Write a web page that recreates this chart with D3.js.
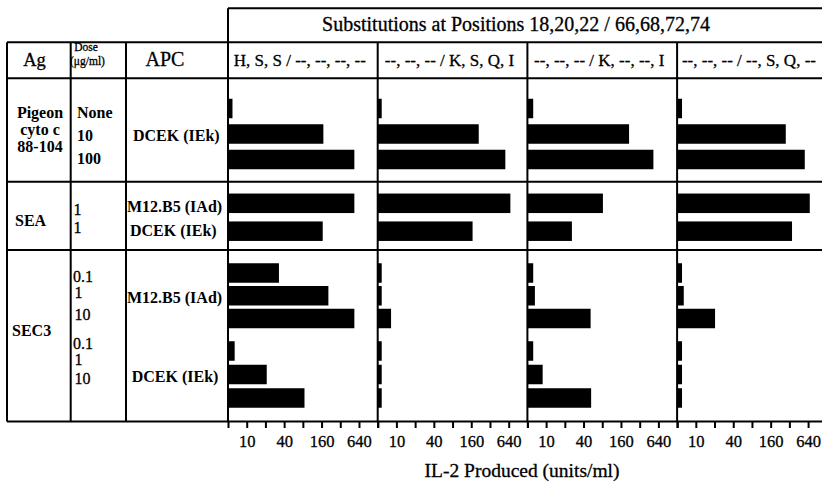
<!DOCTYPE html>
<html><head><meta charset="utf-8">
<script src="https://cdn.jsdelivr.net/npm/d3@7"></script>
<style>body{margin:0;background:#fff}svg{display:block;background:#fff}</style>
</head><body>
<svg id="c" width="822" height="483"></svg>
<script>
// ================= DATA =================
const headerTitle = "Substitutions at Positions 18,20,22 / 66,68,72,74";
const axisTitle = "IL-2 Produced (units/ml)";
const columnHeaders = ["Ag", "APC"];
const doseHeader = ["Dose", "(\u03bcg/ml)"];
const panels = [
  "H, S, S / --, --, --, --",
  "--, --, -- / K, S, Q, I",
  "--, --, -- / K, --, --, I",
  "--, --, -- / --, S, Q, --"
];
const agLabels = [["Pigeon", "cyto c", "88-104"], ["SEA"], ["SEC3"]];
const apcLabels = ["DCEK (IEk)", "M12.B5 (IAd)", "DCEK (IEk)", "M12.B5 (IAd)", "DCEK (IEk)"];
// row -> APC subgroup index
const rowSub = [0, 0, 0, 1, 2, 3, 3, 3, 4, 4, 4];
const doses = ["None", "10", "100", "1", "1", "0.1", "1", "10", "0.1", "1", "10"];
// IL-2 produced (units/ml), one array per substitution panel, rows in order above
const il2Panel1 = [5.9, 171, 539, 539, 167, 33, 206, 539, 6.4, 21, 85];
const il2Panel2 = [5.8, 211, 565, 681, 168, 5.8, 5.8, 8.2, 5.8, 5.8, 5.8];
const il2Panel3 = [6.2, 216, 532, 82, 26, 6.2, 6.6, 52, 6.2, 8.8, 53];
const il2Panel4 = [6.0, 280, 566, 681, 353, 6.0, 6.4, 20.4, 6.0, 6.0, 6.0];
const panelValues = [il2Panel1, il2Panel2, il2Panel3, il2Panel4];
const tickValues = [5, 10, 20, 40, 80, 160, 320, 640, 1280];
const tickLabels = [10, 40, 160, 640];

// ================= LAYOUT =================
const L = {
  left: 7, colAg: 70.7, colDose: 126, colApc: 228, panelW: 149.7,
  headTop: 8.3, headLine: 42.3, colHeadLine: 78.3,
  groupLines: [181.7, 250], axisY: 421.5, rightEnd: 840,
  barH: 19.5
};
// bar-centre ranges for each APC subgroup
const subRange = [[108.5, 159.5], [203.3, 203.3], [231.2, 231.2], [273, 318.5], [351, 398]];
const doseY = [118, 141, 164, 215, 233, 282, 298, 320, 349, 365, 384];
const doseX = [77, 77, 77, 73.5, 73.5, 73, 74.5, 74.5, 73, 74.5, 74.5];
const apcY = [140.7, 211.7, 236, 303.3, 381.7];
const apcX = [133, 127, 130, 127, 131.7];

const svg = d3.select("#c");
const FONT = "'Liberation Serif','Times New Roman',Times,serif";

// y positions from per-subgroup point scales
const subScales = subRange.map((r, si) => {
  const rows = rowSub.map((s, i) => s === si ? i : null).filter(v => v !== null);
  return d3.scalePoint().domain(rows).range(r);
});
const yCenter = i => subScales[rowSub[i]](i);

// x scales per panel (log2)
const xScales = panels.map((p, k) => {
  const x0 = L.colApc + k * L.panelW;
  return d3.scaleLog().base(2).domain([5, 1280]).range([x0, x0 + L.panelW]);
});

// ---------- bars ----------
panelValues.forEach((vals, k) => {
  const x = xScales[k];
  svg.append("g").selectAll("rect").data(vals).join("rect")
    .attr("x", x(5))
    .attr("y", (d, i) => yCenter(i) - L.barH / 2)
    .attr("width", d => x(d) - x(5))
    .attr("height", L.barH)
    .attr("fill", "#000");
});

// ---------- grid lines ----------
const lines = svg.append("g").attr("stroke", "#000").attr("stroke-width", 2).attr("fill", "none");
function ln(x1, y1, x2, y2) { lines.append("line").attr("x1", x1).attr("y1", y1).attr("x2", x2).attr("y2", y2); }
ln(L.colApc, L.headTop, L.rightEnd, L.headTop);
ln(L.left, L.headLine, L.rightEnd, L.headLine);
ln(L.left, L.colHeadLine, L.rightEnd, L.colHeadLine);
L.groupLines.forEach(y => ln(L.left, y, L.rightEnd, y));
ln(L.left, L.axisY, L.rightEnd, L.axisY);
ln(L.left, L.headLine, L.left, L.axisY);
ln(L.colAg, L.headLine, L.colAg, L.axisY);
ln(L.colDose, L.headLine, L.colDose, L.axisY);
ln(L.colApc, L.headTop, L.colApc, L.axisY);
panels.forEach((p, k) => { if (k > 0) ln(xScales[k](5), L.headLine, xScales[k](5), L.axisY); });

// ---------- axes ----------
panels.forEach((p, k) => {
  const ax = d3.axisBottom(xScales[k]).tickValues(tickValues).tickSize(6.5).tickPadding(7.5)
    .tickFormat(d => tickLabels.includes(d) ? String(d) : "");
  const g = svg.append("g").attr("transform", `translate(0,${L.axisY})`).call(ax);
  g.select(".domain").remove();
  g.selectAll(".tick line").attr("stroke", "#000").attr("stroke-width", 2);
  g.selectAll(".tick text").attr("font-family", FONT).attr("font-size", 16.5).attr("fill", "#000")
    .attr("stroke", "#000").attr("stroke-width", 0.3);
});

// ---------- text ----------
function txt(s, x, y, size, opts = {}) {
  return svg.append("text").attr("x", x).attr("y", y).text(s)
    .attr("font-family", FONT).attr("font-size", size).attr("fill", "#000")
    .attr("text-anchor", opts.anchor || "start")
    .attr("font-weight", opts.bold ? "bold" : "normal")
    .attr("stroke", opts.bold ? "none" : "#000").attr("stroke-width", opts.bold ? 0 : 0.3);
}
txt(headerTitle, 516, 30.7, 20, { anchor: "middle" });
txt(columnHeaders[0], 34.5, 65.7, 18.5, { anchor: "middle" });
txt(columnHeaders[1], 165, 65.7, 20, { anchor: "middle" });
txt(doseHeader[0], 86, 51, 11.5, { anchor: "middle" });
txt(doseHeader[1], 87.5, 64.5, 11.5, { anchor: "middle" });
panels.forEach((p, k) => txt(p, (xScales[k](5) + xScales[k](1280)) / 2 - 3, 65.7, 17, { anchor: "middle" }));

// Ag labels
[118, 135, 152].forEach((y, j) => txt(agLabels[0][j], 40, y, 16, { anchor: "middle", bold: true }));
txt(agLabels[1][0], 15, 226, 16, { bold: true });
txt(agLabels[2][0], 12, 336, 16, { bold: true });
// dose labels
doses.forEach((d, i) => txt(d, doseX[i], doseY[i], 16, { bold: i < 3 }));
// APC labels
apcLabels.forEach((a, i) => txt(a, apcX[i], apcY[i], 16, { bold: true }));

txt(axisTitle, 522, 477, 19.5, { anchor: "middle" });
</script>
</body></html>
